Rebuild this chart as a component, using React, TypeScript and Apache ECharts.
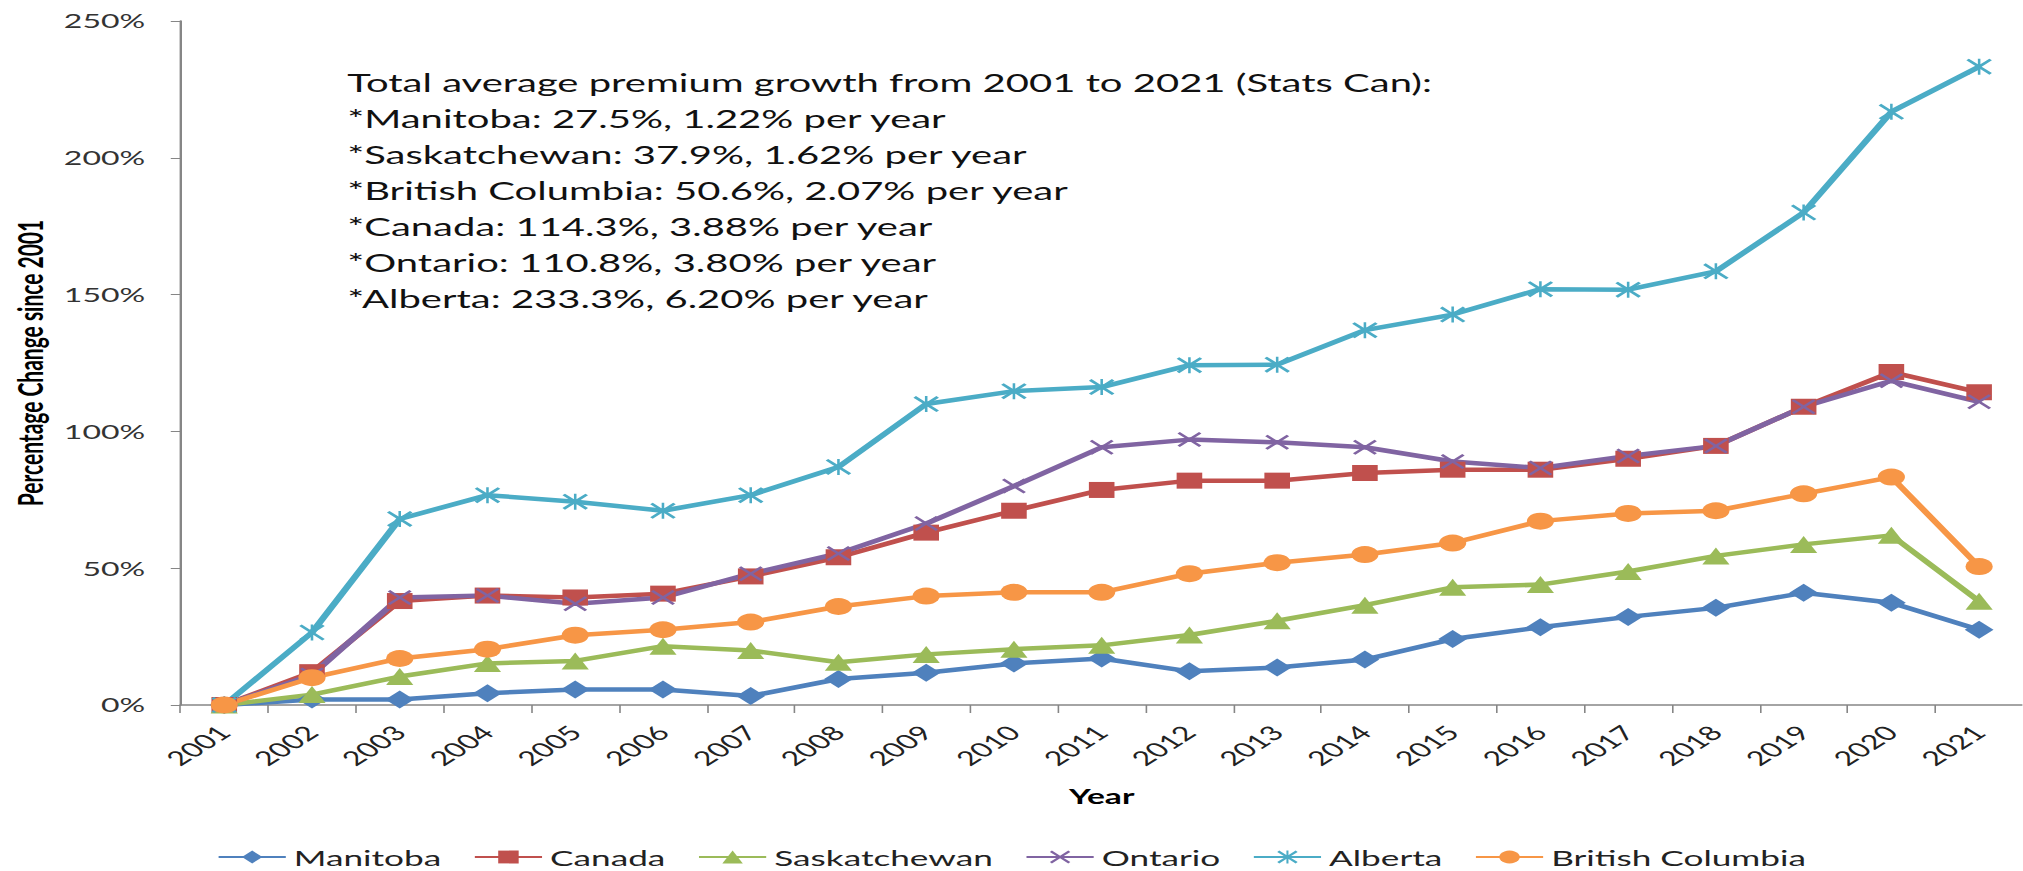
import React, { useEffect, useRef } from "react";
import * as echarts from "echarts";

const years = ["2001","2002","2003","2004","2005","2006","2007","2008","2009","2010","2011","2012","2013","2014","2015","2016","2017","2018","2019","2020","2021"];

const manitoba = [0, 2, 2, 4.3, 5.7, 5.7, 3.3, 9.5, 11.8, 15.2, 17, 12.3, 13.7, 16.6, 24.1, 28.4, 32.2, 35.5, 41, 37.4, 27.5];
const canada = [0, 12, 38, 40, 39.3, 40.7, 47, 54, 63, 71, 78.6, 82, 82, 84.8, 86, 86, 90, 94.7, 109, 121.7, 114.3];
const saskatchewan = [0, 3.8, 10.4, 15.2, 16.1, 21.5, 19.9, 15.6, 18.5, 20.4, 21.8, 25.6, 30.8, 36.5, 43, 44, 48.8, 54.5, 58.7, 62, 37.9];
const ontario = [0, 11, 39.3, 40, 37, 39.3, 48, 55.4, 66.3, 80, 94.2, 97, 96, 94.2, 89, 86.6, 91, 94.7, 109, 118.5, 110.8];
const alberta = [0, 26.5, 68, 76.7, 74.3, 71, 76.7, 87, 110, 114.7, 116.2, 124.2, 124.4, 137, 142.7, 152, 151.8, 158.5, 180, 216.8, 233.3];
const britishColumbia = [0, 10, 17, 20.4, 25.5, 27.5, 30.3, 36, 39.8, 41.2, 41.2, 48, 52, 55, 59.2, 67.2, 70, 71, 77.2, 83.3, 50.6];

const yTicks = { min: 0, max: 250, interval: 50 };

const noteLines = [
  "Total average premium growth from 2001 to 2021 (Stats Can):",
  "*Manitoba: 27.5%, 1.22% per year",
  "*Saskatchewan: 37.9%, 1.62% per year",
  "*British Columbia: 50.6%, 2.07% per year",
  "*Canada: 114.3%, 3.88% per year",
  "*Ontario: 110.8%, 3.80% per year",
  "*Alberta: 233.3%, 6.20% per year",
];

const STRETCH = 1.6;
const W = 2023 / STRETCH;
const H = 871;

const xSym = "path://M0,2L2,0L10,8L18,0L20,2L12,10L20,18L18,20L10,12L2,20L0,18L8,10Z";
const starSym = xSym + "M9,0L11,0L11,20L9,20Z";

const FONT = "Lato, 'Open Sans', sans-serif";

export default function App() {
  const ref = useRef<HTMLDivElement>(null);
  useEffect(() => {
    if (!ref.current) return;
    const chart = echarts.init(ref.current, null, { renderer: "svg", width: W, height: H });
    const mk = (name: string, data: number[], color: string, symbol: string, size: number) => ({
      name,
      type: "line",
      data,
      symbol,
      symbolSize: size,
      showSymbol: true,
      lineStyle: { color, width: 4.5 },
      itemStyle: { color, borderColor: color, borderWidth: 0 },
      emphasis: { disabled: true },
    });
    chart.setOption({
      animation: false,
      textStyle: { fontFamily: FONT },
      grid: { left: 110.6, right: 0, top: 21, bottom: 166, containLabel: false },
      legend: {
        left: "center",
        top: 841,
        itemWidth: 42,
        itemHeight: 16,
        itemGap: 20,
        textStyle: { fontSize: 22, color: "#222", fontFamily: FONT },
        data: ["Manitoba", "Canada", "Saskatchewan", "Ontario", "Alberta", "British Columbia"],
      },
      xAxis: {
        type: "category",
        data: years,
        boundaryGap: true,
        name: "Year",
        nameLocation: "middle",
        nameGap: 80,
        nameTextStyle: { fontSize: 21, fontWeight: "bold", color: "#000", fontFamily: FONT },
        axisLine: { lineStyle: { color: "#868686", width: 1.5 } },
        axisTick: { show: true, length: 8, lineStyle: { color: "#868686" } },
        axisLabel: { rotate: 45, fontSize: 20, color: "#222", margin: 24, interval: 0, fontFamily: FONT },
      },
      yAxis: {
        type: "value",
        min: yTicks.min,
        max: yTicks.max,
        interval: yTicks.interval,
        name: "Percentage Change since 2001",
        nameLocation: "middle",
        nameGap: 82,
        nameTextStyle: { fontSize: 21, fontWeight: "bold", color: "#000", fontFamily: FONT },
        axisLine: { show: true, lineStyle: { color: "#868686", width: 1.5 } },
        axisTick: { show: true, length: 6, lineStyle: { color: "#868686" } },
        splitLine: { show: false },
        axisLabel: { formatter: "{value}%", fontSize: 20, color: "#333", margin: 22, fontFamily: FONT },
      },
      graphic: [
        {
          type: "text",
          left: 217,
          top: 64,
          style: {
            text: noteLines.join("\n"),
            font: "25px " + FONT,
            lineHeight: 36,
            fill: "#111",
          },
        },
      ],
      series: [
        mk("Manitoba", manitoba, "#4F81BD", "diamond", 18),
        mk("Canada", canada, "#C0504D", "rect", 16),
        mk("Saskatchewan", saskatchewan, "#9BBB59", "triangle", 17),
        mk("Ontario", ontario, "#8064A2", xSym, 15),
        mk("Alberta", alberta, "#4BACC6", starSym, 16),
        mk("British Columbia", britishColumbia, "#F79646", "circle", 17),
      ],
    });
    return () => chart.dispose();
  }, []);
  return (
    <div
      ref={ref}
      style={{
        position: "absolute",
        left: 0,
        top: 0,
        width: W,
        height: H,
        transform: `scaleX(${STRETCH})`,
        transformOrigin: "0 0",
        background: "#fff",
      }}
    />
  );
}
